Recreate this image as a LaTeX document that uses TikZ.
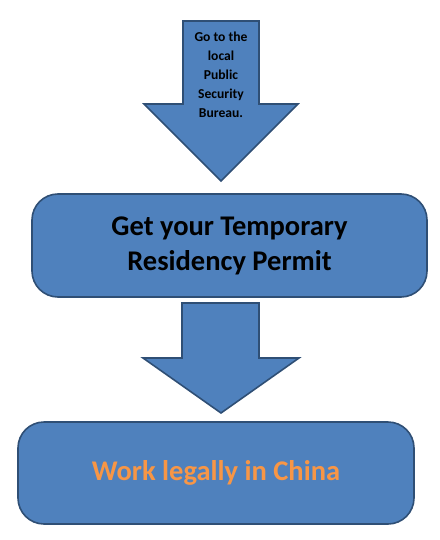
\documentclass[tikz,border=0pt]{standalone}
\usepackage{fontspec}
\setmainfont{Carlito}
\definecolor{boxfill}{HTML}{4F81BD}
\definecolor{boxline}{HTML}{2F4F75}
\definecolor{orangetxt}{HTML}{F79646}
\begin{document}
\begin{tikzpicture}[x=1pt,y=-1pt,
  shapestyle/.style={fill=boxfill,draw=boxline,line width=1.6pt,line join=miter},
  roundbox/.style={shapestyle,rounded corners=26pt},
  bigtext/.style={font=\bfseries\fontsize{28.5}{35}\selectfont,align=center},
  smalltext/.style={font=\bfseries\fontsize{13.6}{19}\selectfont,align=center}]
\useasboundingbox (0,0) rectangle (439,540);
% top arrow
\draw[shapestyle] (183,21) -- (259,21) -- (259,104) -- (298,104) -- (221,181) -- (144,104) -- (183,104) -- cycle;
\node[smalltext] (psb) at (221,75) {Go to the\\local\\Public\\Security\\Bureau.};
% box 1
\draw[roundbox] (32,194) rectangle (427,297);
\node[bigtext] (permit) at (229.5,246) {Get your Temporary\\Residency Permit};
% middle arrow
\draw[shapestyle] (182,303) -- (259,303) -- (259,358) -- (299,358) -- (221,413) -- (143,358) -- (182,358) -- cycle;
% box 2
\draw[roundbox] (18,422) rectangle (414,524);
\node[bigtext,text=orangetxt] (work) at (216,473) {Work legally in China};
\end{tikzpicture}
\end{document}
